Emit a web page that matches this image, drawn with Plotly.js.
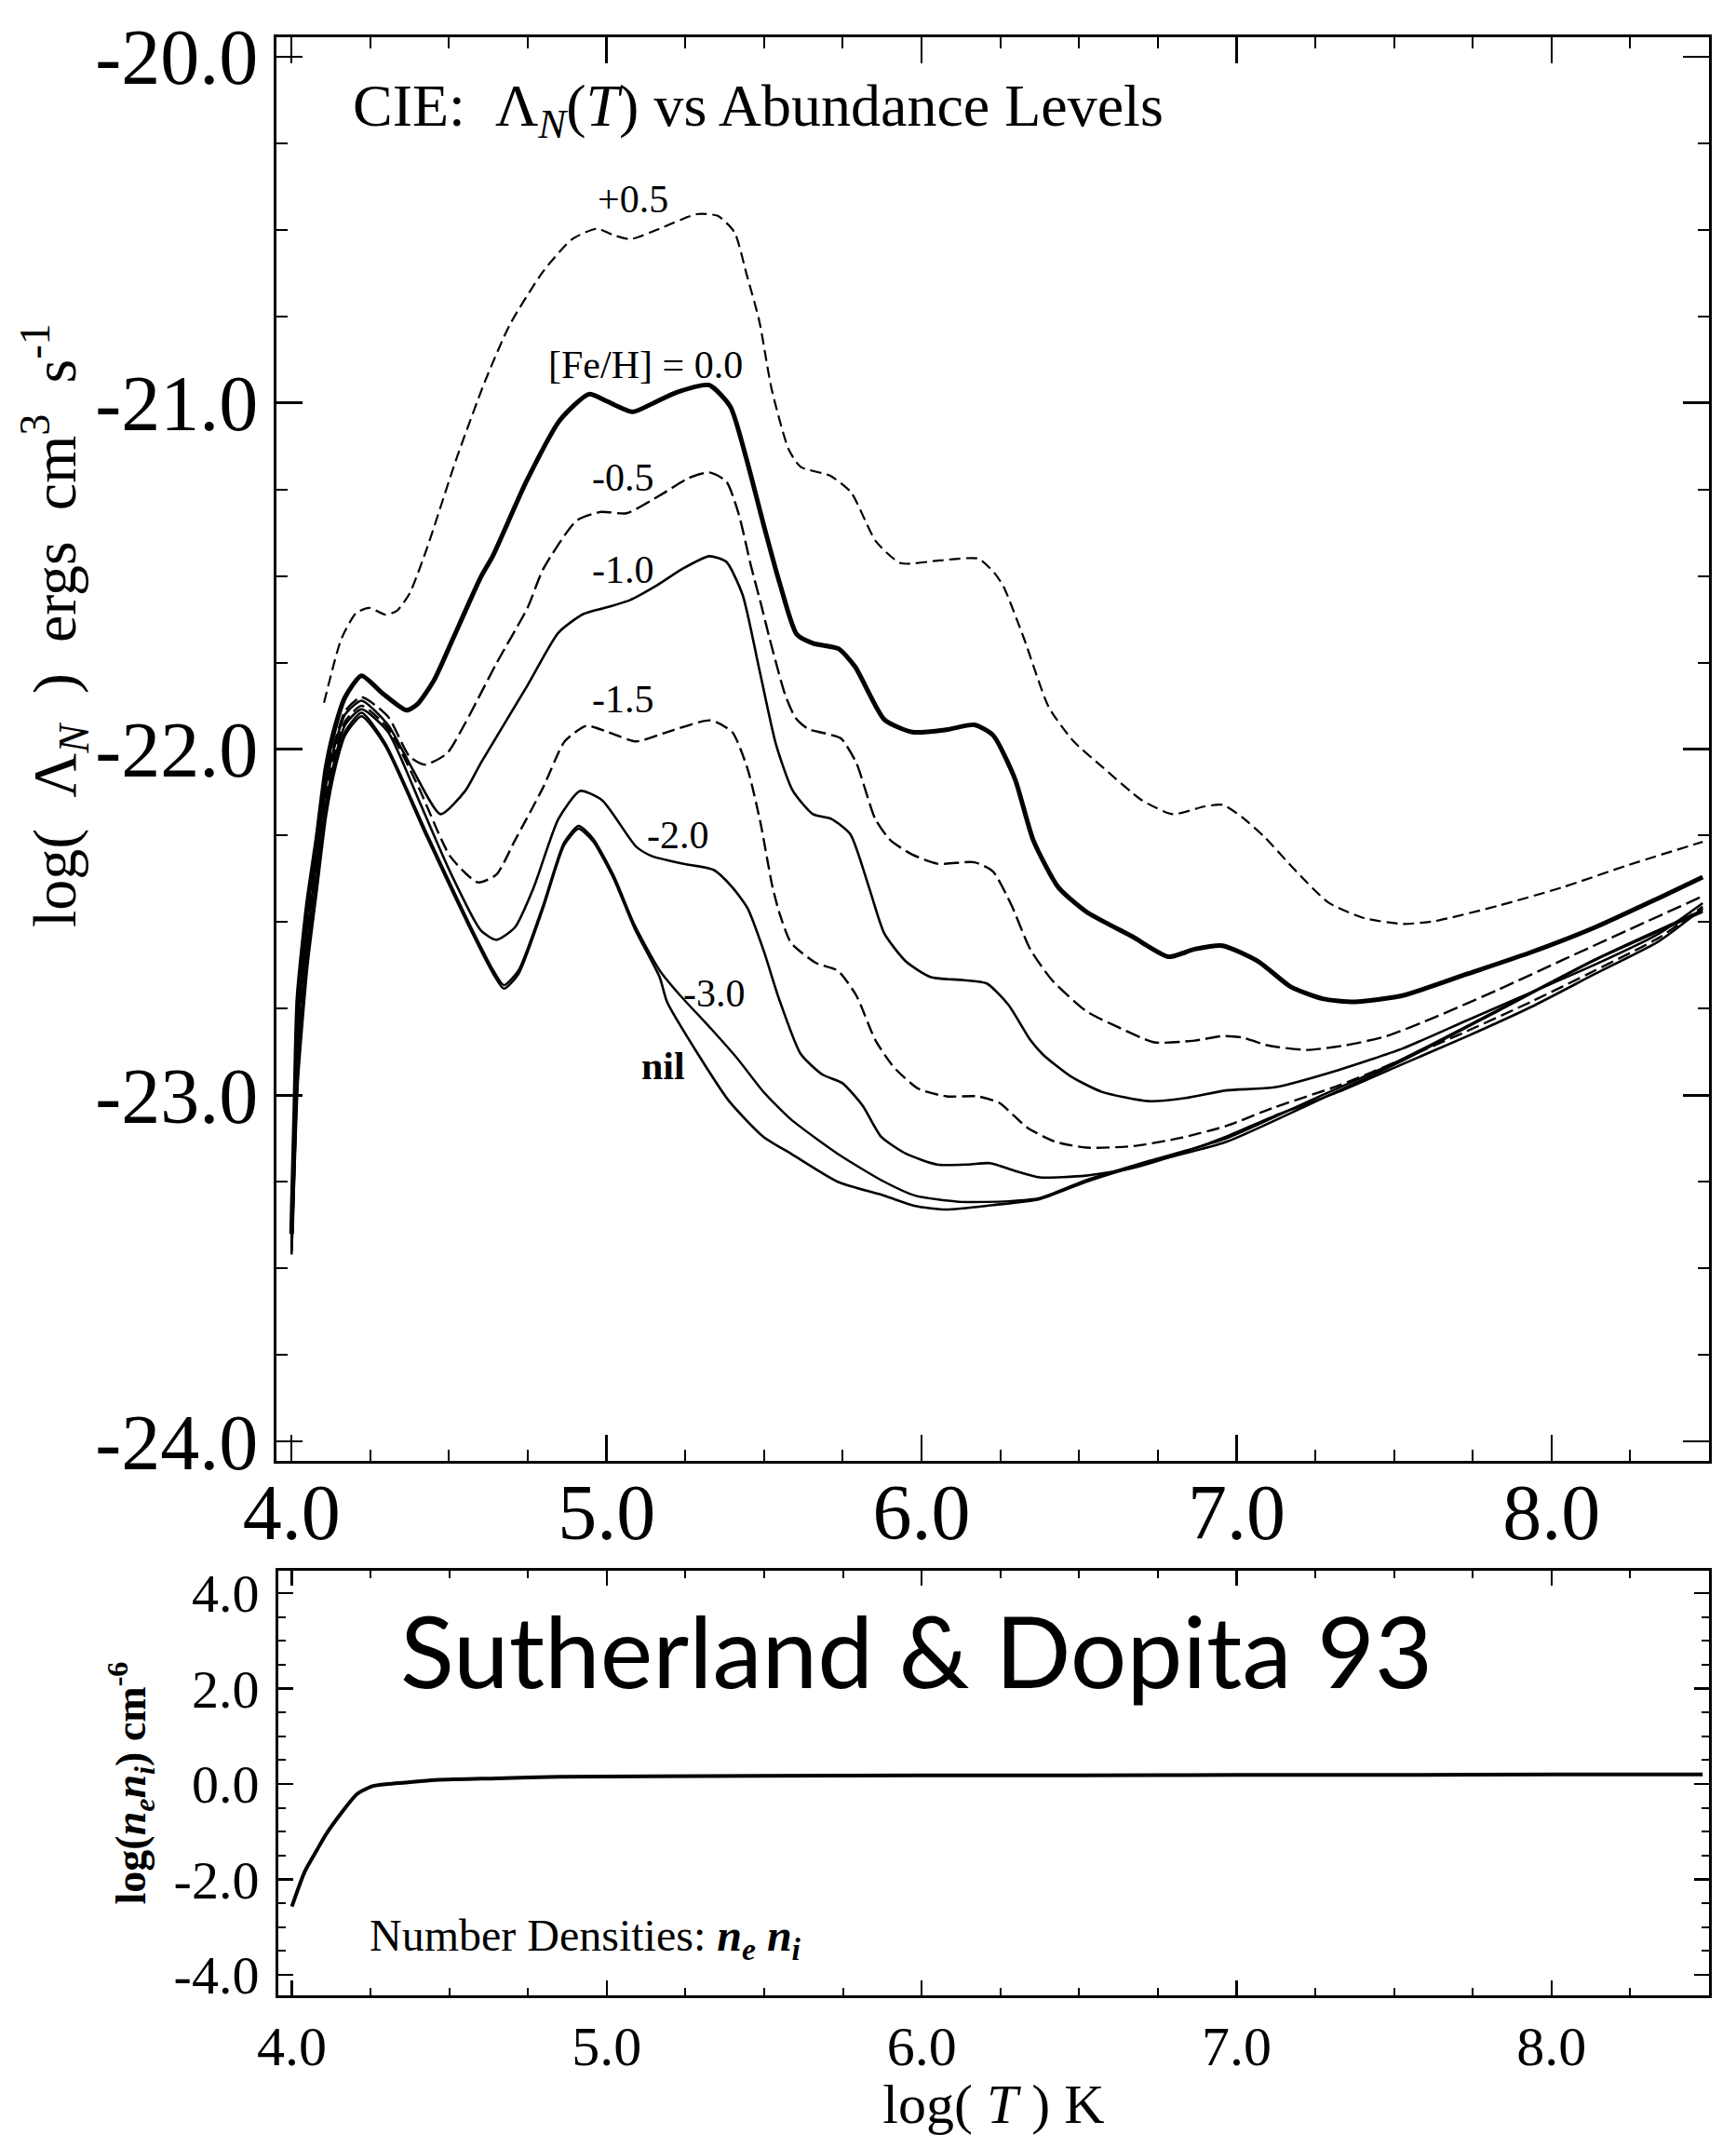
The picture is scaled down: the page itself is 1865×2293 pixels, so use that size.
<!DOCTYPE html>
<html>
<head>
<meta charset="utf-8">
<script src="https://cdn.plot.ly/plotly-3.0.1.min.js"></script>
<style>
  html, body { margin: 0; padding: 0; background: #ffffff; }
  #chart { width: 1865px; height: 2293px; }
</style>
</head>
<body>
<div id="chart"></div>
<script>
// Cooling functions log(Lambda_N) for CIE plasma at several [Fe/H] levels
const logT_p05 = [4.103, 4.158, 4.205, 4.247, 4.298, 4.335, 4.375, 4.429, 4.522, 4.614, 4.693, 4.799, 4.891, 4.970, 5.020, 5.076, 5.168, 5.287, 5.353, 5.406, 5.445, 5.485, 5.524, 5.578, 5.616, 5.709, 5.776, 5.855, 5.934, 6.060, 6.180, 6.230, 6.260, 6.325, 6.404, 6.483, 6.572, 6.700, 6.798, 6.897, 6.956, 7.018, 7.090, 7.181, 7.293, 7.405, 7.527, 7.629, 7.833, 8.036, 8.240, 8.480];
const lam_p05 = [-21.866, -21.682, -21.607, -21.592, -21.612, -21.600, -21.550, -21.422, -21.165, -20.938, -20.774, -20.620, -20.527, -20.497, -20.515, -20.527, -20.497, -20.455, -20.460, -20.507, -20.630, -20.764, -20.960, -21.134, -21.185, -21.210, -21.258, -21.400, -21.463, -21.455, -21.450, -21.490, -21.530, -21.680, -21.879, -21.978, -22.050, -22.148, -22.188, -22.166, -22.161, -22.197, -22.255, -22.345, -22.444, -22.488, -22.505, -22.497, -22.452, -22.399, -22.336, -22.268];

const logT_000 = [4.000, 4.010, 4.020, 4.050, 4.080, 4.110, 4.140, 4.170, 4.222, 4.290, 4.365, 4.400, 4.453, 4.513, 4.601, 4.640, 4.746, 4.852, 4.944, 5.000, 5.083, 5.150, 5.221, 5.326, 5.393, 5.445, 5.498, 5.551, 5.604, 5.657, 5.736, 5.789, 5.882, 5.971, 6.079, 6.168, 6.227, 6.296, 6.355, 6.434, 6.523, 6.670, 6.784, 6.867, 6.956, 7.070, 7.171, 7.273, 7.375, 7.527, 7.731, 7.935, 8.138, 8.341, 8.480];
const lam_000 = [-23.400, -23.050, -22.720, -22.450, -22.260, -22.050, -21.930, -21.850, -21.788, -21.840, -21.888, -21.870, -21.800, -21.680, -21.503, -21.440, -21.226, -21.050, -20.975, -20.995, -21.026, -21.000, -20.970, -20.949, -21.011, -21.165, -21.350, -21.525, -21.669, -21.695, -21.710, -21.762, -21.915, -21.951, -21.944, -21.930, -21.960, -22.085, -22.264, -22.399, -22.470, -22.542, -22.600, -22.578, -22.568, -22.614, -22.686, -22.721, -22.730, -22.712, -22.650, -22.587, -22.515, -22.430, -22.370];

const logT_m05 = [4.000, 4.010, 4.020, 4.050, 4.080, 4.110, 4.140, 4.170, 4.222, 4.306, 4.375, 4.424, 4.493, 4.552, 4.650, 4.749, 4.799, 4.905, 4.983, 5.063, 5.168, 5.261, 5.326, 5.380, 5.419, 5.459, 5.490, 5.518, 5.567, 5.600, 5.640, 5.695, 5.744, 5.793, 5.853, 5.902, 5.971, 6.050, 6.168, 6.227, 6.286, 6.345, 6.414, 6.523, 6.621, 6.739, 6.867, 6.956, 7.018, 7.100, 7.222, 7.344, 7.477, 7.629, 7.833, 8.036, 8.240, 8.480];
const lam_m05 = [-23.410, -23.100, -22.780, -22.500, -22.300, -22.080, -21.970, -21.890, -21.850, -21.906, -22.022, -22.045, -22.013, -21.924, -21.753, -21.592, -21.480, -21.340, -21.315, -21.319, -21.268, -21.217, -21.201, -21.227, -21.319, -21.473, -21.580, -21.682, -21.843, -21.910, -21.942, -21.955, -21.969, -22.040, -22.202, -22.264, -22.305, -22.331, -22.327, -22.354, -22.452, -22.578, -22.667, -22.757, -22.802, -22.847, -22.842, -22.829, -22.833, -22.856, -22.869, -22.856, -22.829, -22.775, -22.694, -22.609, -22.524, -22.425];

const logT_m10 = [4.000, 4.010, 4.020, 4.050, 4.080, 4.110, 4.140, 4.170, 4.222, 4.306, 4.384, 4.473, 4.552, 4.601, 4.749, 4.847, 4.926, 4.995, 5.074, 5.155, 5.240, 5.326, 5.380, 5.432, 5.485, 5.538, 5.591, 5.655, 5.714, 5.774, 5.833, 5.882, 5.951, 6.030, 6.128, 6.207, 6.276, 6.345, 6.385, 6.473, 6.572, 6.720, 6.838, 6.966, 7.120, 7.324, 7.527, 7.731, 7.935, 8.137, 8.341, 8.480];
const lam_m10 = [-23.420, -23.120, -22.820, -22.530, -22.320, -22.100, -21.980, -21.900, -21.860, -21.930, -22.058, -22.188, -22.120, -22.040, -21.816, -21.664, -21.610, -21.592, -21.570, -21.530, -21.480, -21.443, -21.459, -21.555, -21.770, -21.987, -22.120, -22.188, -22.202, -22.246, -22.399, -22.533, -22.614, -22.659, -22.667, -22.677, -22.739, -22.840, -22.882, -22.945, -22.990, -23.017, -23.008, -22.986, -22.977, -22.927, -22.865, -22.784, -22.703, -22.623, -22.533, -22.445];

const logT_m15 = [4.000, 4.010, 4.020, 4.050, 4.080, 4.110, 4.140, 4.170, 4.222, 4.306, 4.404, 4.503, 4.591, 4.650, 4.709, 4.798, 4.867, 4.936, 5.005, 5.094, 5.192, 5.330, 5.399, 5.448, 5.488, 5.527, 5.551, 5.586, 5.665, 5.734, 5.793, 5.853, 5.912, 5.990, 6.079, 6.178, 6.247, 6.335, 6.424, 6.523, 6.670, 6.818, 6.966, 7.120, 7.324, 7.527, 7.731, 7.935, 8.137, 8.341, 8.480];
const lam_m15 = [-23.430, -23.140, -22.860, -22.560, -22.350, -22.130, -22.000, -21.920, -21.875, -21.940, -22.112, -22.309, -22.385, -22.363, -22.264, -22.112, -21.978, -21.933, -21.951, -21.978, -21.951, -21.917, -21.951, -22.058, -22.210, -22.399, -22.480, -22.560, -22.618, -22.640, -22.712, -22.840, -22.919, -22.981, -23.003, -23.003, -23.022, -23.093, -23.134, -23.151, -23.147, -23.124, -23.089, -23.035, -22.972, -22.896, -22.815, -22.730, -22.640, -22.545, -22.455];

const logT_m20 = [4.000, 4.010, 4.020, 4.050, 4.080, 4.110, 4.140, 4.170, 4.222, 4.306, 4.404, 4.503, 4.601, 4.650, 4.709, 4.769, 4.847, 4.916, 4.986, 5.094, 5.143, 5.241, 5.340, 5.399, 5.448, 5.498, 5.547, 5.616, 5.685, 5.749, 5.813, 5.872, 5.951, 6.050, 6.148, 6.217, 6.296, 6.375, 6.523, 6.670, 6.818, 6.966, 7.120, 7.324, 7.527, 7.731, 7.935, 8.137, 8.341, 8.480];
const lam_m20 = [-23.440, -23.160, -22.900, -22.580, -22.370, -22.150, -22.020, -21.930, -21.885, -21.950, -22.148, -22.354, -22.524, -22.551, -22.515, -22.399, -22.202, -22.121, -22.148, -22.282, -22.309, -22.331, -22.349, -22.399, -22.460, -22.580, -22.720, -22.880, -22.940, -22.965, -23.030, -23.120, -23.169, -23.200, -23.200, -23.196, -23.218, -23.237, -23.232, -23.210, -23.169, -23.120, -23.060, -22.990, -22.910, -22.830, -22.745, -22.650, -22.555, -22.460];

const logT_m30 = [4.000, 4.010, 4.020, 4.050, 4.080, 4.110, 4.140, 4.170, 4.222, 4.297, 4.430, 4.561, 4.641, 4.674, 4.720, 4.799, 4.865, 4.911, 4.957, 5.023, 5.089, 5.169, 5.234, 5.327, 5.419, 5.498, 5.586, 5.734, 5.882, 5.980, 6.128, 6.276, 6.375, 6.523, 6.720, 6.966, 7.222, 7.527, 7.833, 8.137, 8.480];
const lam_m30 = [-23.450, -23.180, -22.930, -22.600, -22.390, -22.170, -22.040, -21.950, -21.895, -21.982, -22.245, -22.498, -22.640, -22.682, -22.640, -22.450, -22.270, -22.222, -22.258, -22.366, -22.508, -22.640, -22.712, -22.803, -22.898, -22.990, -23.070, -23.169, -23.250, -23.290, -23.308, -23.306, -23.297, -23.245, -23.190, -23.125, -23.020, -22.895, -22.752, -22.608, -22.465];

const logT_nil = [4.000, 4.010, 4.020, 4.050, 4.080, 4.110, 4.140, 4.170, 4.222, 4.297, 4.430, 4.561, 4.641, 4.674, 4.720, 4.799, 4.865, 4.911, 4.957, 5.023, 5.089, 5.169, 5.192, 5.291, 5.389, 5.498, 5.586, 5.734, 5.882, 5.980, 6.079, 6.227, 6.375, 6.523, 6.720, 6.966, 7.222, 7.527, 7.833, 8.137, 8.480];
const lam_nil = [-23.460, -23.200, -22.960, -22.630, -22.410, -22.190, -22.050, -21.960, -21.905, -21.990, -22.255, -22.508, -22.650, -22.692, -22.650, -22.458, -22.278, -22.230, -22.266, -22.375, -22.518, -22.660, -22.730, -22.882, -23.017, -23.120, -23.169, -23.250, -23.290, -23.320, -23.330, -23.317, -23.300, -23.250, -23.195, -23.135, -23.030, -22.900, -22.755, -22.610, -22.470];

// Number densities log(ne*ni) for the lower panel
const logT_dens = [4.000, 4.040, 4.080, 4.108, 4.158, 4.207, 4.256, 4.305, 4.360, 4.453, 4.650, 4.850, 5.143, 5.500, 6.000, 6.500, 7.000, 7.500, 8.000, 8.480];
const nenI = [-2.57, -1.85, -1.38, -1.06, -0.60, -0.21, -0.045, 0.00, 0.03, 0.085, 0.118, 0.15, 0.16, 0.17, 0.18, 0.18, 0.19, 0.19, 0.20, 0.20];

// Curve labels: text and anchor point in (logT, logLambda)
const curveLabels = ['+0.5', '[Fe/H] = 0.0', '-0.5', '-1.0', '-1.5', '-2.0', '-3.0', '<b>nil</b>'];
const labelT = [5.085, 5.125, 5.053, 5.053, 5.054, 5.227, 5.343, 5.180];
const labelL = [-20.411, -20.892, -21.216, -21.481, -21.857, -22.250, -22.707, -22.917];

const topTicks = [4, 5, 6, 7, 8];
const topTickText = ['4.0', '5.0', '6.0', '7.0', '8.0'];
const lamTicks = [-24, -23, -22, -21, -20];
const lamTickText = ['-24.0', '-23.0', '-22.0', '-21.0', '-20.0'];
const densTicks = [-4, -2, 0, 2, 4];
const densTickText = ['-4.0', '-2.0', '0.0', '2.0', '4.0'];

const SERIF = 'Liberation Serif, Times New Roman, serif';
const W = 1865, H = 2293;
const px = v => v / W;
const py = v => 1 - v / H;
const NB = '\u00A0';

function curve(x, y, width, dash) {
  return {
    type: 'scatter', mode: 'lines', x: x, y: y, xaxis: 'x', yaxis: 'y',
    line: { color: '#000000', width: width, dash: dash, shape: 'spline', smoothing: 0.6 },
    hoverinfo: 'skip', showlegend: false
  };
}

const traces = [
  curve(logT_p05, lam_p05, 2.2, '12px,6px'),
  curve(logT_000, lam_000, 5, 'solid'),
  curve(logT_m05, lam_m05, 2.4, '16px,6px'),
  curve(logT_m10, lam_m10, 2.6, 'solid'),
  curve(logT_m15, lam_m15, 2.4, '14px,6px'),
  curve(logT_m20, lam_m20, 2.6, 'solid'),
  curve(logT_m30, lam_m30, 2.4, 'solid'),
  curve(logT_nil, lam_nil, 2.6, 'solid'),
  {
    type: 'scatter', mode: 'lines', x: logT_dens, y: nenI, xaxis: 'x2', yaxis: 'y2',
    line: { color: '#000000', width: 4, shape: 'spline', smoothing: 0.6 },
    hoverinfo: 'skip', showlegend: false
  }
];

const annotations = curveLabels.map((t, i) => ({
  text: t, x: labelT[i], y: labelL[i], xref: 'x', yref: 'y',
  showarrow: false, xanchor: 'center', yanchor: 'middle',
  font: { family: SERIF, size: 42, color: '#000000' }
}));

annotations.push({
  text: 'CIE:' + NB + NB + '\u039B<sub><i>N</i></sub>(<i>T</i>) vs Abundance Levels',
  x: px(377), y: py(118), xref: 'paper', yref: 'paper',
  xanchor: 'left', yanchor: 'middle', showarrow: false,
  font: { family: SERIF, size: 64, color: '#000000' }
});
annotations.push({
  text: 'log(' + NB + NB + '\u039B<sub><i>N</i></sub>' + NB + NB + ')' + NB + NB + 'ergs' + NB + NB + 'cm<sup>3</sup>' + NB + NB + 's<sup>-1</sup>',
  x: px(58), y: py(672), xref: 'paper', yref: 'paper', textangle: -90,
  xanchor: 'center', yanchor: 'middle', showarrow: false,
  font: { family: SERIF, size: 66, color: '#000000' }
});
annotations.push({
  text: 'Sutherland & Dopita 93',
  x: px(428), y: py(1771), xref: 'paper', yref: 'paper',
  xanchor: 'left', yanchor: 'middle', showarrow: false,
  font: { family: 'Lato, Noto Sans, sans-serif', size: 107, color: '#000000' }
});
annotations.push({
  text: 'Number Densities: <b><i>n</i></b><sub><b><i>e</i></b></sub> <b><i>n</i></b><sub><b><i>i</i></b></sub>',
  x: px(395), y: py(2082), xref: 'paper', yref: 'paper',
  xanchor: 'left', yanchor: 'middle', showarrow: false,
  font: { family: SERIF, size: 48, color: '#000000' }
});

const boxAxis = {
  showline: true, linecolor: '#000000', linewidth: 3, mirror: 'ticks',
  ticks: 'inside', tickcolor: '#000000', showgrid: false, zeroline: false,
  fixedrange: true
};

const layout = {
  width: W, height: H,
  margin: { l: 0, r: 0, t: 0, b: 0 },
  paper_bgcolor: '#ffffff', plot_bgcolor: '#ffffff',
  showlegend: false,
  font: { family: SERIF, color: '#000000' },
  xaxis: Object.assign({}, boxAxis, {
    domain: [px(297), px(1836)], range: [3.952, 8.5], anchor: 'y',
    tickmode: 'array', tickvals: topTicks, ticktext: topTickText,
    ticklen: 28, tickwidth: 2.5, ticklabelstandoff: -20,
    minor: { dtick: 0.25, tick0: 0, ticks: 'inside', ticklen: 12, tickwidth: 2, tickcolor: '#000000' },
    tickfont: { family: SERIF, size: 84, color: '#000000' }
  }),
  yaxis: Object.assign({}, boxAxis, {
    domain: [py(1569), py(40)], range: [-24.056, -19.944], anchor: 'x',
    tickmode: 'array', tickvals: lamTicks, ticktext: lamTickText,
    ticklen: 28, tickwidth: 2.5,
    minor: { dtick: 0.25, tick0: 0, ticks: 'inside', ticklen: 12, tickwidth: 2, tickcolor: '#000000' },
    tickfont: { family: SERIF, size: 84, color: '#000000' }
  }),
  xaxis2: Object.assign({}, boxAxis, {
    domain: [px(299), px(1836)], range: [3.957, 8.5], anchor: 'y2',
    tickmode: 'array', tickvals: topTicks, ticktext: topTickText,
    ticklen: 16, tickwidth: 2.5,
    minor: { dtick: 0.25, tick0: 0, ticks: 'inside', ticklen: 8, tickwidth: 2, tickcolor: '#000000' },
    tickfont: { family: SERIF, size: 60, color: '#000000' },
    title: { text: 'log(' + NB + '<i>T</i>' + NB + ') K', font: { family: SERIF, size: 60, color: '#000000' }, standoff: 22 }
  }),
  yaxis2: Object.assign({}, boxAxis, {
    domain: [py(2143), py(1687)], range: [-4.43, 4.47], anchor: 'x2',
    tickmode: 'array', tickvals: densTicks, ticktext: densTickText,
    ticklen: 16, tickwidth: 2.5, ticklabelstandoff: 6,
    minor: { dtick: 0.5, tick0: 0, ticks: 'inside', ticklen: 8, tickwidth: 2, tickcolor: '#000000' },
    tickfont: { family: SERIF, size: 58, color: '#000000' },
    title: { text: '<b>log(<i>n<sub>e</sub>n<sub>i</sub></i>) cm<sup>-6</sup></b>', font: { family: SERIF, size: 46, color: '#000000' }, standoff: 16 }
  }),
  annotations: annotations
};

Plotly.newPlot('chart', traces, layout, { staticPlot: true, displayModeBar: false });
</script>
</body>
</html>
